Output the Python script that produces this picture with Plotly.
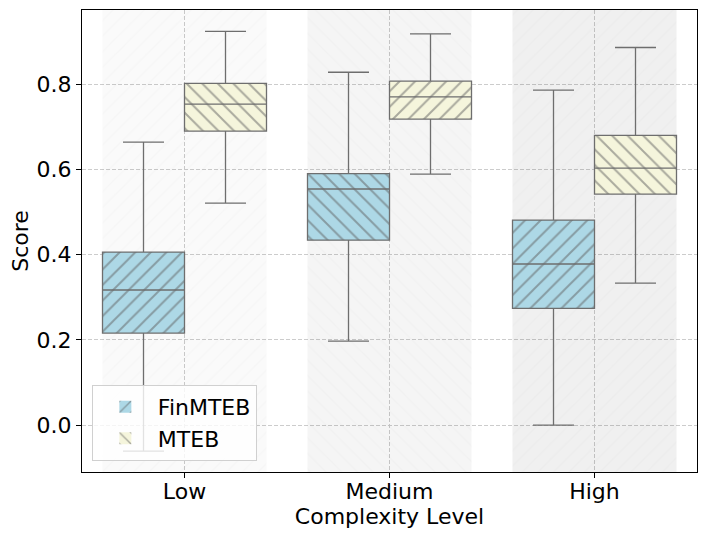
import plotly.graph_objects as go

categories = ["Low", "Medium", "High"]
series_names = ["FinMTEB", "MTEB"]

fin_q1 = [0.216, 0.434, 0.274]
fin_median = [0.317, 0.554, 0.378]
fin_q3 = [0.406, 0.590, 0.481]
fin_low = [-0.061, 0.197, 0.000]
fin_high = [0.664, 0.828, 0.786]

mteb_q1 = [0.690, 0.718, 0.542]
mteb_median = [0.753, 0.770, 0.603]
mteb_q3 = [0.802, 0.807, 0.680]
mteb_low = [0.521, 0.589, 0.333]
mteb_high = [0.924, 0.918, 0.886]

y_ticks = [0.0, 0.2, 0.4, 0.6, 0.8]

# styling
fin_color = "#add8e6"
mteb_color = "#f5f5dc"
edge = "#6e6e6e"
fin_hatch = ["/", "\\", "/"]
mteb_hatch = ["\\", "/", "\\"]
band_hatch = ["/", "\\", "/"]
band_alpha = [0.02, 0.04, 0.06]
y_lo, y_hi = -0.11, 0.974

fig = go.Figure()

# background bands
for i, c in enumerate(categories):
    fig.add_trace(go.Bar(
        x=[i], y=[y_hi - y_lo + 0.4], base=[y_lo - 0.2], width=0.8,
        marker=dict(color=f"rgba(0,0,0,{band_alpha[i]})", line=dict(width=0),
                    pattern=dict(shape=band_hatch[i], bgcolor=f"rgba(0,0,0,{band_alpha[i]})",
                                 fgcolor="rgba(0,0,0,0.035)", size=11, solidity=0.12)),
        showlegend=False, hoverinfo="skip"))

series = [
    (series_names[0], -0.2, fin_q1, fin_median, fin_q3, fin_low, fin_high, fin_color, fin_hatch),
    (series_names[1], 0.2, mteb_q1, mteb_median, mteb_q3, mteb_low, mteb_high, mteb_color, mteb_hatch),
]

for name, off, q1, med, q3, lo, hi, col, hatches in series:
    for i, c in enumerate(categories):
        fig.add_trace(go.Bar(
            x=[i + off], y=[q3[i] - q1[i]], base=[q1[i]], width=0.4,
            name=name, legendgroup=name, showlegend=(i == 0),
            marker=dict(color=col, line=dict(width=0),
                        pattern=dict(shape=hatches[i], bgcolor=col, fgcolor="#606060",
                                     size=11, solidity=0.18, fillmode="overlay")),
            hoverinfo="skip"))
    for i, c in enumerate(categories):
        fig.add_trace(go.Box(
            x=[i + off], q1=[q1[i]], median=[med[i]], q3=[q3[i]],
            lowerfence=[lo[i]], upperfence=[hi[i]], width=0.4, whiskerwidth=0.5,
            fillcolor="rgba(0,0,0,0)", line=dict(color=edge, width=1.3),
            boxpoints=False, showlegend=False, legendgroup=name, name=name))

axis_common = dict(
    showline=True, linecolor="black", linewidth=1, mirror=True,
    ticks="outside", ticklen=5, tickcolor="black",
    showgrid=True, gridcolor="#cccccc", griddash="4px,2px", gridwidth=0.8,
    zeroline=False,
    tickfont=dict(size=22, color="black"),
)

fig.update_layout(
    width=694, height=521,
    margin=dict(l=74, r=5, t=2, b=57, autoexpand=False),
    paper_bgcolor="white", plot_bgcolor="white",
    font=dict(family="DejaVu Sans", color="black"),
    barmode="overlay", boxmode="overlay",
    xaxis=dict(axis_common, range=[-0.5, 2.5], tickvals=[0, 1, 2], ticktext=categories,
               ticklabelstandoff=-5,
               title=dict(text="Complexity Level", font=dict(size=22), standoff=4)),
    yaxis=dict(axis_common, range=[y_lo, y_hi], tickvals=y_ticks, tickformat=".1f",
               title=dict(text="Score", font=dict(size=22), standoff=6)),
    legend=dict(x=0.016, y=0.024, xanchor="left", yanchor="bottom",
                bgcolor="rgba(255,255,255,0.8)", bordercolor="#d0d0d0", borderwidth=1,
                font=dict(size=22), itemwidth=55, traceorder="normal",
                tracegroupgap=0),
)

fig.write_html("out.html")
